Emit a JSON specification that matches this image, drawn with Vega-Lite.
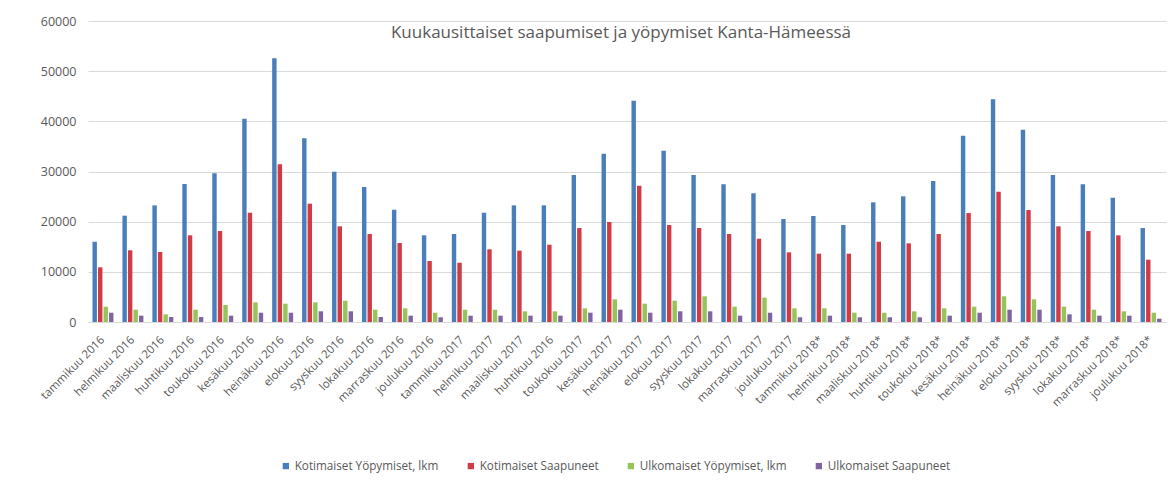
{
  "$schema": "https://vega.github.io/schema/vega-lite/v6.json",
  "autosize": {"type": "none"},
  "padding": {"left": 88, "top": 21, "right": 3, "bottom": 165},
  "width": 1078,
  "height": 301,
  "background": "white",
  "title": {
    "text": "Kuukausittaiset saapumiset ja yöpymiset Kanta-Hämeessä",
    "font": "Open Sans",
    "fontSize": 17,
    "fontWeight": "normal",
    "color": "#595959",
    "anchor": "middle",
    "frame": "group",
    "baseline": "alphabetic",
    "offset": -18,
    "dy": 22,
    "dx": -6
  },
  "datasets": {
    "rows": [
      {"kk": "tammikuu 2016", "sarja": "Kotimaiset Yöpymiset, lkm", "arvo": 16000},
      {"kk": "tammikuu 2016", "sarja": "Kotimaiset Saapuneet", "arvo": 10900},
      {"kk": "tammikuu 2016", "sarja": "Ulkomaiset Yöpymiset, lkm", "arvo": 3050},
      {"kk": "tammikuu 2016", "sarja": "Ulkomaiset Saapuneet", "arvo": 1850},
      {"kk": "helmikuu 2016", "sarja": "Kotimaiset Yöpymiset, lkm", "arvo": 21190},
      {"kk": "helmikuu 2016", "sarja": "Kotimaiset Saapuneet", "arvo": 14290},
      {"kk": "helmikuu 2016", "sarja": "Ulkomaiset Yöpymiset, lkm", "arvo": 2450},
      {"kk": "helmikuu 2016", "sarja": "Ulkomaiset Saapuneet", "arvo": 1260},
      {"kk": "maaliskuu 2016", "sarja": "Kotimaiset Yöpymiset, lkm", "arvo": 23250},
      {"kk": "maaliskuu 2016", "sarja": "Kotimaiset Saapuneet", "arvo": 13950},
      {"kk": "maaliskuu 2016", "sarja": "Ulkomaiset Yöpymiset, lkm", "arvo": 1530},
      {"kk": "maaliskuu 2016", "sarja": "Ulkomaiset Saapuneet", "arvo": 1000},
      {"kk": "huhtikuu 2016", "sarja": "Kotimaiset Yöpymiset, lkm", "arvo": 27500},
      {"kk": "huhtikuu 2016", "sarja": "Kotimaiset Saapuneet", "arvo": 17280},
      {"kk": "huhtikuu 2016", "sarja": "Ulkomaiset Yöpymiset, lkm", "arvo": 2450},
      {"kk": "huhtikuu 2016", "sarja": "Ulkomaiset Saapuneet", "arvo": 1000},
      {"kk": "toukokuu 2016", "sarja": "Kotimaiset Yöpymiset, lkm", "arvo": 29630},
      {"kk": "toukokuu 2016", "sarja": "Kotimaiset Saapuneet", "arvo": 18130},
      {"kk": "toukokuu 2016", "sarja": "Ulkomaiset Yöpymiset, lkm", "arvo": 3390},
      {"kk": "toukokuu 2016", "sarja": "Ulkomaiset Saapuneet", "arvo": 1260},
      {"kk": "kesäkuu 2016", "sarja": "Kotimaiset Yöpymiset, lkm", "arvo": 40520},
      {"kk": "kesäkuu 2016", "sarja": "Kotimaiset Saapuneet", "arvo": 21780},
      {"kk": "kesäkuu 2016", "sarja": "Ulkomaiset Yöpymiset, lkm", "arvo": 3920},
      {"kk": "kesäkuu 2016", "sarja": "Ulkomaiset Saapuneet", "arvo": 1850},
      {"kk": "heinäkuu 2016", "sarja": "Kotimaiset Yöpymiset, lkm", "arvo": 52550},
      {"kk": "heinäkuu 2016", "sarja": "Kotimaiset Saapuneet", "arvo": 31430},
      {"kk": "heinäkuu 2016", "sarja": "Ulkomaiset Yöpymiset, lkm", "arvo": 3650},
      {"kk": "heinäkuu 2016", "sarja": "Ulkomaiset Saapuneet", "arvo": 1850},
      {"kk": "elokuu 2016", "sarja": "Kotimaiset Yöpymiset, lkm", "arvo": 36610},
      {"kk": "elokuu 2016", "sarja": "Kotimaiset Saapuneet", "arvo": 23580},
      {"kk": "elokuu 2016", "sarja": "Ulkomaiset Yöpymiset, lkm", "arvo": 3920},
      {"kk": "elokuu 2016", "sarja": "Ulkomaiset Saapuneet", "arvo": 2130},
      {"kk": "syyskuu 2016", "sarja": "Kotimaiset Yöpymiset, lkm", "arvo": 29960},
      {"kk": "syyskuu 2016", "sarja": "Kotimaiset Saapuneet", "arvo": 19070},
      {"kk": "syyskuu 2016", "sarja": "Ulkomaiset Yöpymiset, lkm", "arvo": 4250},
      {"kk": "syyskuu 2016", "sarja": "Ulkomaiset Saapuneet", "arvo": 2130},
      {"kk": "lokakuu 2016", "sarja": "Kotimaiset Yöpymiset, lkm", "arvo": 26900},
      {"kk": "lokakuu 2016", "sarja": "Kotimaiset Saapuneet", "arvo": 17540},
      {"kk": "lokakuu 2016", "sarja": "Ulkomaiset Yöpymiset, lkm", "arvo": 2450},
      {"kk": "lokakuu 2016", "sarja": "Ulkomaiset Saapuneet", "arvo": 1000},
      {"kk": "marraskuu 2016", "sarja": "Kotimaiset Yöpymiset, lkm", "arvo": 22380},
      {"kk": "marraskuu 2016", "sarja": "Kotimaiset Saapuneet", "arvo": 15740},
      {"kk": "marraskuu 2016", "sarja": "Ulkomaiset Yöpymiset, lkm", "arvo": 2720},
      {"kk": "marraskuu 2016", "sarja": "Ulkomaiset Saapuneet", "arvo": 1260},
      {"kk": "joulukuu 2016", "sarja": "Kotimaiset Yöpymiset, lkm", "arvo": 17280},
      {"kk": "joulukuu 2016", "sarja": "Kotimaiset Saapuneet", "arvo": 12160},
      {"kk": "joulukuu 2016", "sarja": "Ulkomaiset Yöpymiset, lkm", "arvo": 1850},
      {"kk": "joulukuu 2016", "sarja": "Ulkomaiset Saapuneet", "arvo": 940},
      {"kk": "tammikuu 2017", "sarja": "Kotimaiset Yöpymiset, lkm", "arvo": 17540},
      {"kk": "tammikuu 2017", "sarja": "Kotimaiset Saapuneet", "arvo": 11820},
      {"kk": "tammikuu 2017", "sarja": "Ulkomaiset Yöpymiset, lkm", "arvo": 2450},
      {"kk": "tammikuu 2017", "sarja": "Ulkomaiset Saapuneet", "arvo": 1260},
      {"kk": "helmikuu 2017", "sarja": "Kotimaiset Yöpymiset, lkm", "arvo": 21780},
      {"kk": "helmikuu 2017", "sarja": "Kotimaiset Saapuneet", "arvo": 14490},
      {"kk": "helmikuu 2017", "sarja": "Ulkomaiset Yöpymiset, lkm", "arvo": 2450},
      {"kk": "helmikuu 2017", "sarja": "Ulkomaiset Saapuneet", "arvo": 1260},
      {"kk": "maaliskuu 2017", "sarja": "Kotimaiset Yöpymiset, lkm", "arvo": 23250},
      {"kk": "maaliskuu 2017", "sarja": "Kotimaiset Saapuneet", "arvo": 14220},
      {"kk": "maaliskuu 2017", "sarja": "Ulkomaiset Yöpymiset, lkm", "arvo": 2130},
      {"kk": "maaliskuu 2017", "sarja": "Ulkomaiset Saapuneet", "arvo": 1260},
      {"kk": "huhtikuu 2016\u200b", "sarja": "Kotimaiset Yöpymiset, lkm", "arvo": 23250},
      {"kk": "huhtikuu 2016\u200b", "sarja": "Kotimaiset Saapuneet", "arvo": 15410},
      {"kk": "huhtikuu 2016\u200b", "sarja": "Ulkomaiset Yöpymiset, lkm", "arvo": 2130},
      {"kk": "huhtikuu 2016\u200b", "sarja": "Ulkomaiset Saapuneet", "arvo": 1260},
      {"kk": "toukokuu 2017", "sarja": "Kotimaiset Yöpymiset, lkm", "arvo": 29300},
      {"kk": "toukokuu 2017", "sarja": "Kotimaiset Saapuneet", "arvo": 18730},
      {"kk": "toukokuu 2017", "sarja": "Ulkomaiset Yöpymiset, lkm", "arvo": 2720},
      {"kk": "toukokuu 2017", "sarja": "Ulkomaiset Saapuneet", "arvo": 1850},
      {"kk": "kesäkuu 2017", "sarja": "Kotimaiset Yöpymiset, lkm", "arvo": 33540},
      {"kk": "kesäkuu 2017", "sarja": "Kotimaiset Saapuneet", "arvo": 19930},
      {"kk": "kesäkuu 2017", "sarja": "Ulkomaiset Yöpymiset, lkm", "arvo": 4520},
      {"kk": "kesäkuu 2017", "sarja": "Ulkomaiset Saapuneet", "arvo": 2450},
      {"kk": "heinäkuu 2017", "sarja": "Kotimaiset Yöpymiset, lkm", "arvo": 44100},
      {"kk": "heinäkuu 2017", "sarja": "Kotimaiset Saapuneet", "arvo": 27170},
      {"kk": "heinäkuu 2017", "sarja": "Ulkomaiset Yöpymiset, lkm", "arvo": 3650},
      {"kk": "heinäkuu 2017", "sarja": "Ulkomaiset Saapuneet", "arvo": 1850},
      {"kk": "elokuu 2017", "sarja": "Kotimaiset Yöpymiset, lkm", "arvo": 34140},
      {"kk": "elokuu 2017", "sarja": "Kotimaiset Saapuneet", "arvo": 19330},
      {"kk": "elokuu 2017", "sarja": "Ulkomaiset Yöpymiset, lkm", "arvo": 4250},
      {"kk": "elokuu 2017", "sarja": "Ulkomaiset Saapuneet", "arvo": 2130},
      {"kk": "syyskuu 2017", "sarja": "Kotimaiset Yöpymiset, lkm", "arvo": 29300},
      {"kk": "syyskuu 2017", "sarja": "Kotimaiset Saapuneet", "arvo": 18730},
      {"kk": "syyskuu 2017", "sarja": "Ulkomaiset Yöpymiset, lkm", "arvo": 5120},
      {"kk": "syyskuu 2017", "sarja": "Ulkomaiset Saapuneet", "arvo": 2130},
      {"kk": "lokakuu 2017", "sarja": "Kotimaiset Yöpymiset, lkm", "arvo": 27440},
      {"kk": "lokakuu 2017", "sarja": "Kotimaiset Saapuneet", "arvo": 17540},
      {"kk": "lokakuu 2017", "sarja": "Ulkomaiset Yöpymiset, lkm", "arvo": 3050},
      {"kk": "lokakuu 2017", "sarja": "Ulkomaiset Saapuneet", "arvo": 1260},
      {"kk": "marraskuu 2017", "sarja": "Kotimaiset Yöpymiset, lkm", "arvo": 25650},
      {"kk": "marraskuu 2017", "sarja": "Kotimaiset Saapuneet", "arvo": 16600},
      {"kk": "marraskuu 2017", "sarja": "Ulkomaiset Yöpymiset, lkm", "arvo": 4850},
      {"kk": "marraskuu 2017", "sarja": "Ulkomaiset Saapuneet", "arvo": 1850},
      {"kk": "joulukuu 2017", "sarja": "Kotimaiset Yöpymiset, lkm", "arvo": 20530},
      {"kk": "joulukuu 2017", "sarja": "Kotimaiset Saapuneet", "arvo": 13890},
      {"kk": "joulukuu 2017", "sarja": "Ulkomaiset Yöpymiset, lkm", "arvo": 2720},
      {"kk": "joulukuu 2017", "sarja": "Ulkomaiset Saapuneet", "arvo": 940},
      {"kk": "tammikuu 2018*", "sarja": "Kotimaiset Yöpymiset, lkm", "arvo": 21130},
      {"kk": "tammikuu 2018*", "sarja": "Kotimaiset Saapuneet", "arvo": 13620},
      {"kk": "tammikuu 2018*", "sarja": "Ulkomaiset Yöpymiset, lkm", "arvo": 2720},
      {"kk": "tammikuu 2018*", "sarja": "Ulkomaiset Saapuneet", "arvo": 1260},
      {"kk": "helmikuu 2018*", "sarja": "Kotimaiset Yöpymiset, lkm", "arvo": 19330},
      {"kk": "helmikuu 2018*", "sarja": "Kotimaiset Saapuneet", "arvo": 13620},
      {"kk": "helmikuu 2018*", "sarja": "Ulkomaiset Yöpymiset, lkm", "arvo": 1850},
      {"kk": "helmikuu 2018*", "sarja": "Ulkomaiset Saapuneet", "arvo": 940},
      {"kk": "maaliskuu 2018*", "sarja": "Kotimaiset Yöpymiset, lkm", "arvo": 23850},
      {"kk": "maaliskuu 2018*", "sarja": "Kotimaiset Saapuneet", "arvo": 16000},
      {"kk": "maaliskuu 2018*", "sarja": "Ulkomaiset Yöpymiset, lkm", "arvo": 1850},
      {"kk": "maaliskuu 2018*", "sarja": "Ulkomaiset Saapuneet", "arvo": 940},
      {"kk": "huhtikuu 2018*", "sarja": "Kotimaiset Yöpymiset, lkm", "arvo": 25050},
      {"kk": "huhtikuu 2018*", "sarja": "Kotimaiset Saapuneet", "arvo": 15680},
      {"kk": "huhtikuu 2018*", "sarja": "Ulkomaiset Yöpymiset, lkm", "arvo": 2130},
      {"kk": "huhtikuu 2018*", "sarja": "Ulkomaiset Saapuneet", "arvo": 940},
      {"kk": "toukokuu 2018*", "sarja": "Kotimaiset Yöpymiset, lkm", "arvo": 28100},
      {"kk": "toukokuu 2018*", "sarja": "Kotimaiset Saapuneet", "arvo": 17540},
      {"kk": "toukokuu 2018*", "sarja": "Ulkomaiset Yöpymiset, lkm", "arvo": 2720},
      {"kk": "toukokuu 2018*", "sarja": "Ulkomaiset Saapuneet", "arvo": 1260},
      {"kk": "kesäkuu 2018*", "sarja": "Kotimaiset Yöpymiset, lkm", "arvo": 37130},
      {"kk": "kesäkuu 2018*", "sarja": "Kotimaiset Saapuneet", "arvo": 21720},
      {"kk": "kesäkuu 2018*", "sarja": "Ulkomaiset Yöpymiset, lkm", "arvo": 3050},
      {"kk": "kesäkuu 2018*", "sarja": "Ulkomaiset Saapuneet", "arvo": 1850},
      {"kk": "heinäkuu 2018*", "sarja": "Kotimaiset Yöpymiset, lkm", "arvo": 44380},
      {"kk": "heinäkuu 2018*", "sarja": "Kotimaiset Saapuneet", "arvo": 25970},
      {"kk": "heinäkuu 2018*", "sarja": "Ulkomaiset Yöpymiset, lkm", "arvo": 5120},
      {"kk": "heinäkuu 2018*", "sarja": "Ulkomaiset Saapuneet", "arvo": 2450},
      {"kk": "elokuu 2018*", "sarja": "Kotimaiset Yöpymiset, lkm", "arvo": 38330},
      {"kk": "elokuu 2018*", "sarja": "Kotimaiset Saapuneet", "arvo": 22320},
      {"kk": "elokuu 2018*", "sarja": "Ulkomaiset Yöpymiset, lkm", "arvo": 4520},
      {"kk": "elokuu 2018*", "sarja": "Ulkomaiset Saapuneet", "arvo": 2450},
      {"kk": "syyskuu 2018*", "sarja": "Kotimaiset Yöpymiset, lkm", "arvo": 29300},
      {"kk": "syyskuu 2018*", "sarja": "Kotimaiset Saapuneet", "arvo": 19070},
      {"kk": "syyskuu 2018*", "sarja": "Ulkomaiset Yöpymiset, lkm", "arvo": 3050},
      {"kk": "syyskuu 2018*", "sarja": "Ulkomaiset Saapuneet", "arvo": 1530},
      {"kk": "lokakuu 2018*", "sarja": "Kotimaiset Yöpymiset, lkm", "arvo": 27440},
      {"kk": "lokakuu 2018*", "sarja": "Kotimaiset Saapuneet", "arvo": 18130},
      {"kk": "lokakuu 2018*", "sarja": "Ulkomaiset Yöpymiset, lkm", "arvo": 2450},
      {"kk": "lokakuu 2018*", "sarja": "Ulkomaiset Saapuneet", "arvo": 1260},
      {"kk": "marraskuu 2018*", "sarja": "Kotimaiset Yöpymiset, lkm", "arvo": 24770},
      {"kk": "marraskuu 2018*", "sarja": "Kotimaiset Saapuneet", "arvo": 17280},
      {"kk": "marraskuu 2018*", "sarja": "Ulkomaiset Yöpymiset, lkm", "arvo": 2130},
      {"kk": "marraskuu 2018*", "sarja": "Ulkomaiset Saapuneet", "arvo": 1260},
      {"kk": "joulukuu 2018*", "sarja": "Kotimaiset Yöpymiset, lkm", "arvo": 18730},
      {"kk": "joulukuu 2018*", "sarja": "Kotimaiset Saapuneet", "arvo": 12420},
      {"kk": "joulukuu 2018*", "sarja": "Ulkomaiset Yöpymiset, lkm", "arvo": 1850},
      {"kk": "joulukuu 2018*", "sarja": "Ulkomaiset Saapuneet", "arvo": 660}
    ]
  },
  "data": {"name": "rows"},
  "mark": {"type": "bar"},
  "encoding": {
    "x": {
      "field": "kk",
      "type": "nominal",
      "sort": null,
      "scale": {"paddingInner": 0.3, "paddingOuter": 0.15},
      "axis": {
        "title": null,
        "labelAngle": -45,
        "labelAlign": "right",
        "labelBaseline": "middle",
        "ticks": false,
        "domainColor": "#d9d9d9",
        "labelFont": "Open Sans",
        "labelFontSize": 11.5,
        "labelColor": "#595959",
        "labelPadding": 16
      }
    },
    "xOffset": {
      "field": "sarja",
      "type": "nominal",
      "sort": ["Kotimaiset Yöpymiset, lkm", "Kotimaiset Saapuneet", "Ulkomaiset Yöpymiset, lkm", "Ulkomaiset Saapuneet"],
      "scale": {"paddingInner": 0.2, "paddingOuter": 0}
    },
    "y": {
      "field": "arvo",
      "type": "quantitative",
      "scale": {"domain": [0, 60000], "nice": false},
      "axis": {
        "title": null,
        "values": [0, 10000, 20000, 30000, 40000, 50000, 60000],
        "format": "d",
        "domain": false,
        "ticks": false,
        "gridColor": "#d9d9d9",
        "labelFont": "Open Sans",
        "labelFontSize": 12.5,
        "labelColor": "#595959",
        "labelPadding": 12
      }
    },
    "color": {
      "field": "sarja",
      "type": "nominal",
      "scale": {
        "domain": ["Kotimaiset Yöpymiset, lkm", "Kotimaiset Saapuneet", "Ulkomaiset Yöpymiset, lkm", "Ulkomaiset Saapuneet"],
        "range": ["#4a7ebb", "#d13b43", "#96c35a", "#8064a2"]
      },
      "legend": {
        "title": null,
        "orient": "none",
        "legendX": 192,
        "legendY": 439,
        "direction": "horizontal",
        "symbolType": "square",
        "symbolSize": 40,
        "symbolStrokeWidth": 0,
        "labelFont": "Open Sans",
        "labelFontSize": 11.7,
        "labelColor": "#595959",
        "labelOffset": 3,
        "columnPadding": 26
      }
    }
  },
  "config": {"view": {"stroke": null}, "font": "Open Sans"}
}
